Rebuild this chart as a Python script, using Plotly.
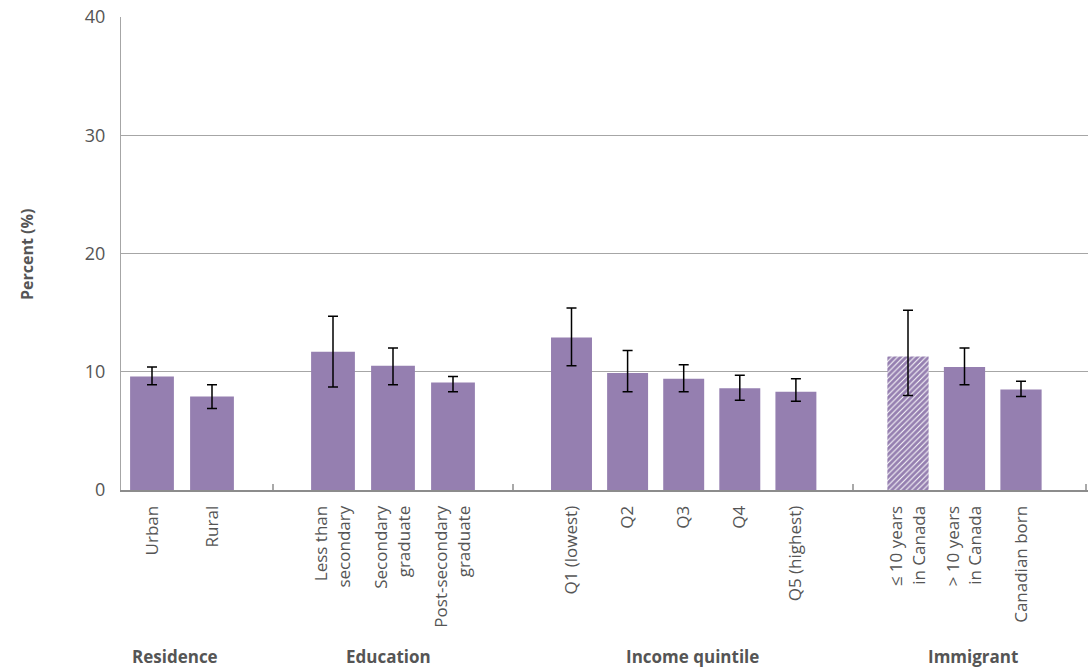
import plotly.graph_objects as go

# ---------------- data ----------------
residence_cats = ["Urban", "Rural"]
residence_vals = [9.6, 7.9]
residence_lo = [8.9, 6.9]
residence_hi = [10.4, 8.9]

education_cats = ["Less than<br>secondary", "Secondary<br>graduate", "Post-secondary<br>graduate"]
education_vals = [11.7, 10.5, 9.1]
education_lo = [8.7, 8.9, 8.3]
education_hi = [14.7, 12.0, 9.6]

income_cats = ["Q1 (lowest)", "Q2", "Q3", "Q4", "Q5 (highest)"]
income_vals = [12.9, 9.9, 9.4, 8.6, 8.3]
income_lo = [10.5, 8.3, 8.3, 7.6, 7.5]
income_hi = [15.4, 11.8, 10.6, 9.7, 9.4]

immigrant_cats = ["\u2264 10 years<br>in Canada", "> 10 years<br>in Canada", "Canadian born"]
immigrant_vals = [11.3, 10.4, 8.5]
immigrant_lo = [8.0, 8.9, 7.9]
immigrant_hi = [15.2, 12.0, 9.2]
immigrant_use_with_caution = [True, False, False]

group_titles = ["Residence", "Education", "Income quintile", "Immigrant"]
y_ticks = [0, 10, 20, 30, 40]

# ---------------- style ----------------
PURPLE = "#957fb0"
TEXT = "#555555"
GRID = "#a6a6a6"
AXIS = "#8c8c8c"
FONT = "Open Sans"

W, H = 1090, 671
PLOT_L, PLOT_R, PLOT_T, PLOT_B = 121, 1088, 17, 490  # page pixel positions of plot area
L = PLOT_L
T = PLOT_T
R = W - PLOT_R
B = H - PLOT_B
PW = PLOT_R - PLOT_L
PH = PLOT_B - PLOT_T


def px_to_fx(px):
    return (px - PLOT_L) / PW


def px_to_fy(py):
    return (PLOT_B - py) / PH


groups = [
    (residence_cats, residence_vals, residence_lo, residence_hi, None),
    (education_cats, education_vals, education_lo, education_hi, None),
    (income_cats, income_vals, income_lo, income_hi, None),
    (immigrant_cats, immigrant_vals, immigrant_lo, immigrant_hi, immigrant_use_with_caution),
]

# layout of each group panel (page pixel boundaries, first-bar centre, slot pitch)
bounds = [121, 273, 513, 853, 1088]
first_centre = [152, 333, 571.5, 908]
pitch = [60, 60, 56.1, 56.5]
title_x_px = [175, 388, 692, 973]

fig = go.Figure()

for i, (cats, vals, lo, hi, caution) in enumerate(groups):
    axname = "x" if i == 0 else f"x{i+1}"
    shapes_pat = [("/" if (caution and caution[j]) else "") for j in range(len(cats))]
    fig.add_trace(go.Bar(
        x=cats, y=vals,
        xaxis=axname, yaxis="y",
        width=0.73,
        marker=dict(
            color=PURPLE, line=dict(width=0),
            pattern=dict(shape=shapes_pat, fgcolor="white", bgcolor=PURPLE,
                         size=4, solidity=0.25, fillmode="replace"),
        ),
        error_y=dict(type="data", symmetric=False,
                     array=[h - v for h, v in zip(hi, vals)],
                     arrayminus=[v - l for v, l in zip(vals, lo)],
                     color="black", thickness=1.5, width=5),
        showlegend=False,
        hoverinfo="x+y",
    ))
    r0 = (bounds[i] - first_centre[i]) / pitch[i]
    r1 = (bounds[i + 1] - first_centre[i]) / pitch[i]
    xa = dict(
        domain=[px_to_fx(bounds[i]), px_to_fx(bounds[i + 1])],
        range=[r0, r1],
        anchor="y",
        type="category",
        showline=True, linecolor=AXIS, linewidth=2,
        showgrid=False, zeroline=False,
        ticks="", tickangle=-90,
        ticklabelstandoff=7,
        tickfont=dict(family=FONT, size=17, color=TEXT),
        fixedrange=True,
    )
    key = "xaxis" if i == 0 else f"xaxis{i+1}"
    fig.update_layout({key: xa})

fig.update_layout(
    width=W, height=H,
    margin=dict(l=L, r=R, t=T, b=B, autoexpand=False),
    paper_bgcolor="white", plot_bgcolor="white",
    yaxis=dict(
        range=[0, 40], tickvals=y_ticks,
        showgrid=True, gridcolor=GRID, gridwidth=1,
        showline=True, linecolor=GRID, linewidth=1,
        zeroline=False, ticks="", ticklabelstandoff=11,
        ticklabeloverflow="allow",
        tickfont=dict(family=FONT, size=18, color=TEXT),
        anchor="x", fixedrange=True,
    ),
    font=dict(family=FONT, color=TEXT),
)

# Group boundary ticks on the category axis
shapes = []
for bpx in bounds[1:-1] + [1086]:
    shapes.append(dict(type="line", xref="paper", yref="paper",
                       x0=px_to_fx(bpx), x1=px_to_fx(bpx),
                       y0=0, y1=px_to_fy(PLOT_B - 6),
                       line=dict(color=AXIS, width=1.5)))
fig.update_layout(shapes=shapes)

annotations = [dict(text="<b>Percent (%)</b>", xref="paper", yref="paper",
                    x=px_to_fx(27), y=px_to_fy(255), textangle=-90,
                    showarrow=False, xanchor="center", yanchor="middle",
                    font=dict(family=FONT, size=16, color=TEXT))]
for t, xp in zip(group_titles, title_x_px):
    annotations.append(dict(text=f"<b>{t}</b>", xref="paper", yref="paper",
                            x=px_to_fx(xp), y=px_to_fy(656),
                            showarrow=False, xanchor="center", yanchor="middle",
                            font=dict(family=FONT, size=17, color=TEXT)))
fig.update_layout(annotations=annotations)

fig.write_html(
    "out.html",
    config={"displayModeBar": False},
    post_script="document.body.style.margin='0';document.body.style.overflow='hidden';",
)
